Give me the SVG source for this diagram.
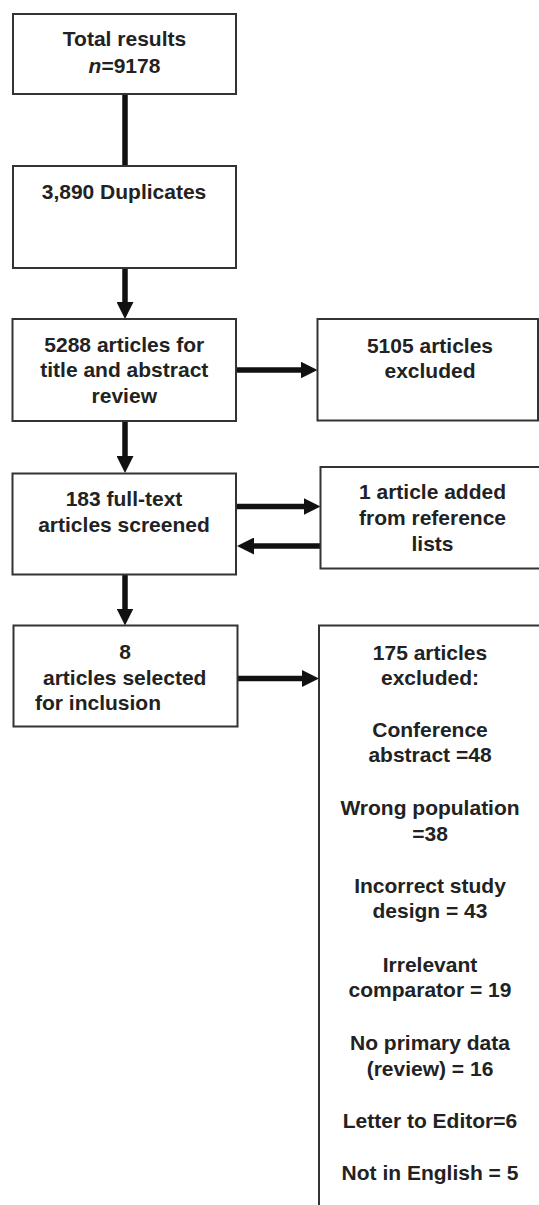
<svg xmlns="http://www.w3.org/2000/svg" width="539" height="1205" viewBox="0 0 539 1205">
<style>
  .box { fill: #ffffff; stroke: #333333; stroke-width: 2; }
  .t { font-family: "Liberation Sans", Arial, sans-serif; font-size: 21px; font-weight: bold; fill: #222222; text-anchor: middle; }
  .ts { text-anchor: start; }
  .conn { stroke: #111111; stroke-width: 5.5; fill: none; }
</style>
<defs>
  <marker id="ah" markerUnits="userSpaceOnUse" markerWidth="17" markerHeight="17" refX="5" refY="8.5" orient="auto" viewBox="0 0 17 17">
    <path d="M0,0 L17,8.5 L0,17 z" fill="#111111"/>
  </marker>
</defs>
<rect width="539" height="1205" fill="#ffffff"/>

<g id="connectors">
  <line class="conn" x1="125" y1="94" x2="125" y2="166"/>
  <line class="conn" x1="125" y1="268" x2="125" y2="307" marker-end="url(#ah)"/>
  <line class="conn" x1="236" y1="370" x2="305.5" y2="370" marker-end="url(#ah)"/>
  <line class="conn" x1="125" y1="421" x2="125" y2="461" marker-end="url(#ah)"/>
  <line class="conn" x1="236" y1="506.5" x2="308.5" y2="506.5" marker-end="url(#ah)"/>
  <line class="conn" x1="320.5" y1="546" x2="249" y2="546" marker-end="url(#ah)"/>
  <line class="conn" x1="125" y1="574.5" x2="125" y2="613.5" marker-end="url(#ah)"/>
  <line class="conn" x1="237" y1="678.5" x2="307" y2="678.5" marker-end="url(#ah)"/>
</g>

<g id="total">
  <rect class="box" x="13" y="14" width="223" height="80"/>
  <text class="t" x="124.5" y="46">Total results</text>
  <text class="t" x="124.5" y="72.5"><tspan font-style="italic">n</tspan>=9178</text>
</g>

<g id="duplicates">
  <rect class="box" x="13" y="166" width="223" height="102"/>
  <text class="t" x="124" y="199">3,890 Duplicates</text>
</g>

<g id="title-abstract">
  <rect class="box" x="12.5" y="319" width="223.5" height="102"/>
  <text class="t" x="124.3" y="351.5">5288 articles for</text>
  <text class="t" x="124.3" y="377">title and abstract</text>
  <text class="t" x="124.3" y="402.7">review</text>
</g>

<g id="excluded-5105">
  <rect class="box" x="317.5" y="319" width="220.5" height="101.5"/>
  <text class="t" x="430" y="352.5">5105 articles</text>
  <text class="t" x="430" y="377.5">excluded</text>
</g>

<g id="fulltext">
  <rect class="box" x="12.5" y="473.5" width="223.5" height="101"/>
  <text class="t" x="124" y="506">183 full-text</text>
  <text class="t" x="124" y="531.5">articles screened</text>
</g>

<g id="reference-lists">
  <rect class="box" x="320.5" y="467" width="230" height="101.5"/>
  <text class="t" x="432.5" y="499">1 article added</text>
  <text class="t" x="432.5" y="525">from reference</text>
  <text class="t" x="432.5" y="550.5">lists</text>
</g>

<g id="included">
  <rect class="box" x="13.5" y="625.5" width="224" height="101"/>
  <text class="t" x="125" y="658.5">8</text>
  <text class="t ts" x="43" y="685">articles selected</text>
  <text class="t ts" x="35" y="710">for inclusion</text>
</g>

<g id="excluded-175">
  <rect class="box" x="319" y="625.5" width="240" height="600"/>
  <text class="t" x="430" y="659.5">175 articles</text>
  <text class="t" x="430" y="685">excluded:</text>
  <text class="t" x="430" y="736.7">Conference</text>
  <text class="t" x="430" y="761.7">abstract =48</text>
  <text class="t" x="430" y="815">Wrong population</text>
  <text class="t" x="430" y="840.7">=38</text>
  <text class="t" x="430" y="893.3">Incorrect study</text>
  <text class="t" x="430" y="918.3">design = 43</text>
  <text class="t" x="430" y="971.7">Irrelevant</text>
  <text class="t" x="430" y="996.7">comparator = 19</text>
  <text class="t" x="430" y="1050">No primary data</text>
  <text class="t" x="430" y="1075.7">(review) = 16</text>
  <text class="t" x="430" y="1128.3">Letter to Editor=6</text>
  <text class="t" x="430" y="1180">Not in English = 5</text>
</g>
</svg>
